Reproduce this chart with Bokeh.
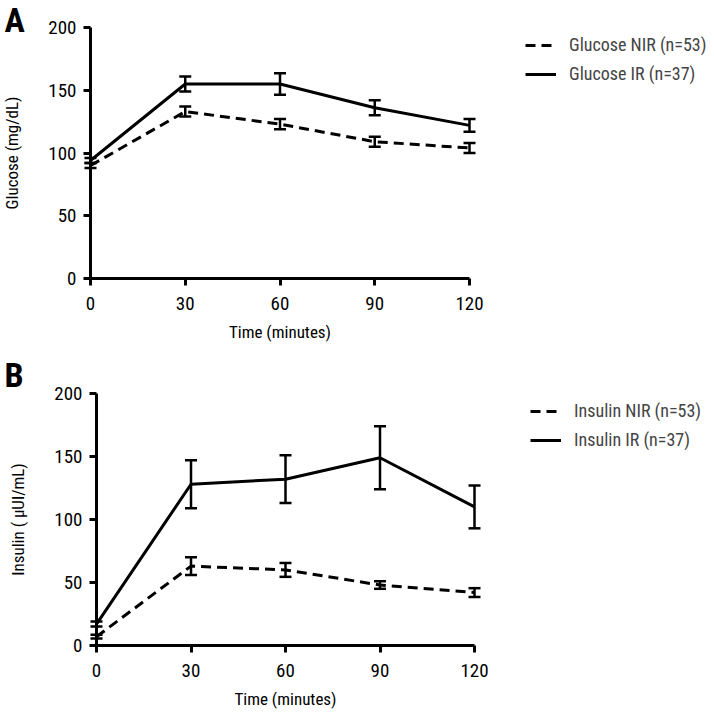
from bokeh.plotting import figure
from bokeh.models import Range1d, Legend, LegendItem, Whisker, ColumnDataSource, Label, TeeHead, FixedTicker
from bokeh.layouts import column
from bokeh.embed import file_html
from bokeh.resources import INLINE

FONT = "Roboto Condensed, Roboto, sans-serif"

time = [0, 30, 60, 90, 120]
x_ticks = [0, 30, 60, 90, 120]
y_ticks = [0, 50, 100, 150, 200]

glucose_nir = [90, 133, 123, 109, 104]
glucose_nir_sem = [2, 4, 4, 4, 4]
glucose_ir = [94, 155, 155, 136, 122]
glucose_ir_sem = [2, 6, 8.5, 6, 5]

insulin_nir = [7, 63, 60, 48, 42]
insulin_nir_sem = [1.5, 7, 5.5, 3, 3.5]
insulin_ir = [17, 128, 132, 149, 110]
insulin_ir_sem = [2, 19, 19, 25, 17]

W = 714


def panel(H, ax_left, ax_right, ax_top, ax_bottom, letter, letter_x, letter_base, ylabel,
          nir, nir_sem, ir, ir_sem, nir_label, ir_label, leg_x, leg_bottom):
    # pixel layout (figure coords, from top-left) -> data ranges, frame = whole figure
    sx = (ax_right - ax_left) / 120.0
    sy = (ax_bottom - ax_top) / 200.0
    xr = Range1d(-ax_left / sx, 120 + (W - ax_right) / sx)
    yr = Range1d(-(H - ax_bottom) / sy, 200 + ax_top / sy)
    p = figure(width=W, height=H, output_backend="svg", toolbar_location=None,
               x_range=xr, y_range=yr, min_border=0)
    p.title.visible = False
    p.outline_line_color = None
    p.grid.visible = False
    for ax in (p.xaxis[0], p.yaxis[0]):
        ax.fixed_location = 0
        ax.axis_line_width = 3
        ax.major_tick_line_width = 3
        ax.major_tick_out = 7
        ax.major_tick_in = 0
        ax.minor_tick_line_color = None
        ax.major_label_text_font = FONT
        ax.major_label_text_font_size = "19px"
        ax.major_label_text_color = "black"
        ax.axis_label_text_font = FONT
        ax.axis_label_text_font_size = "17px"
        ax.axis_label_text_font_style = "normal"
        ax.axis_label_text_color = "black"
    p.xaxis.bounds = (0, 120)
    p.yaxis.bounds = (0, 200)
    p.xaxis.ticker = FixedTicker(ticks=x_ticks)
    p.yaxis.ticker = FixedTicker(ticks=y_ticks)
    p.xaxis.axis_label = "Time (minutes)"
    p.yaxis.axis_label = ylabel
    p.xaxis.major_label_standoff = 11
    p.yaxis.major_label_standoff = 7
    p.xaxis.axis_label_standoff = 9
    p.yaxis.axis_label_standoff = 23

    src_nir = ColumnDataSource(dict(x=time, y=nir,
                                    lo=[a - b for a, b in zip(nir, nir_sem)],
                                    hi=[a + b for a, b in zip(nir, nir_sem)]))
    src_ir = ColumnDataSource(dict(x=time, y=ir,
                                   lo=[a - b for a, b in zip(ir, ir_sem)],
                                   hi=[a + b for a, b in zip(ir, ir_sem)]))
    r_nir = p.line("x", "y", source=src_nir, line_width=3, line_color="black", line_dash="10 6")
    r_ir = p.line("x", "y", source=src_ir, line_width=3, line_color="black")
    for s in (src_nir, src_ir):
        w = Whisker(source=s, base="x", upper="hi", lower="lo", line_width=2.5, line_color="black",
                    upper_head=TeeHead(size=12, line_width=2.5, line_color="black"),
                    lower_head=TeeHead(size=12, line_width=2.5, line_color="black"))
        p.add_layout(w)

    legend = Legend(items=[LegendItem(label=nir_label, renderers=[r_nir]),
                           LegendItem(label=ir_label, renderers=[r_ir])],
                    location=(leg_x, H - leg_bottom), padding=0, margin=0, spacing=8,
                    glyph_width=31, glyph_height=20, label_height=20, label_standoff=13,
                    label_text_font=FONT, label_text_font_size="18px",
                    border_line_color=None, background_fill_alpha=0)
    p.add_layout(legend)

    lab = Label(x=letter_x, y=H - letter_base, x_units="screen", y_units="screen",
                text=letter, text_font=FONT, text_font_size="34px", text_font_style="bold",
                text_color="black", text_baseline="alphabetic")
    p.add_layout(lab)
    return p


# panel A occupies page rows 0..350, panel B rows 350..715
pA = panel(350, 90, 469, 27, 278, "A", 4, 19, "Glucose (mg/dL)",
           glucose_nir, glucose_nir_sem, glucose_ir, glucose_ir_sem,
           "Glucose NIR (n=53)", "Glucose IR (n=37)", 525, 84)
pB = panel(365, 96, 474, 43, 295, "B", 4, 24, "Insulin ( \u00b5UI/mL)",
           insulin_nir, insulin_nir_sem, insulin_ir, insulin_ir_sem,
           "Insulin NIR (n=53)", "Insulin IR (n=37)", 530, 100)

layout = column(pA, pB, spacing=0)
open("out.html", "w").write(file_html(layout, INLINE))
